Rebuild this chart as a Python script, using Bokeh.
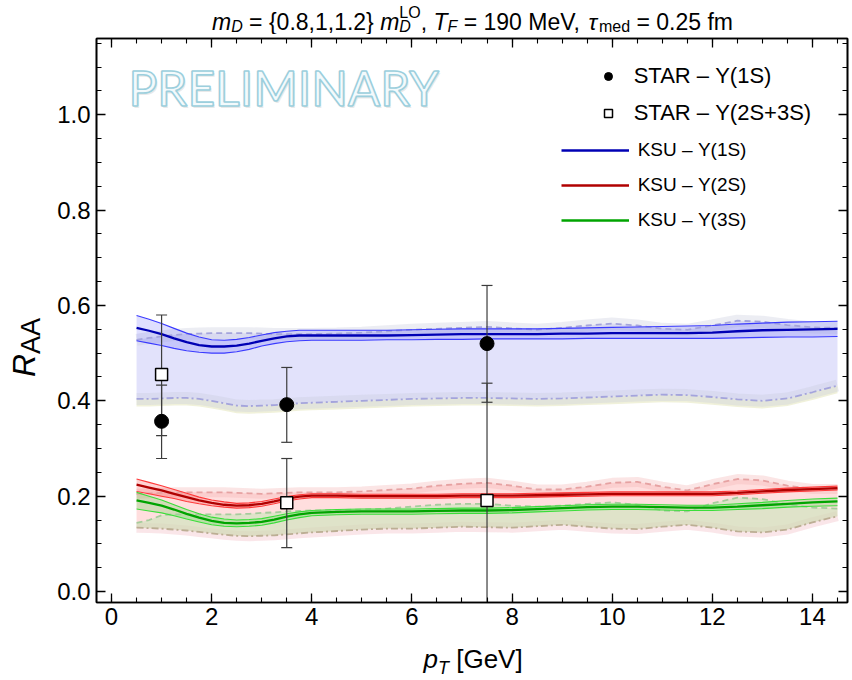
import numpy as np
from bokeh.plotting import figure
from bokeh.layouts import column, row
from bokeh.models import (Label, Legend, LegendItem, LinearAxis, SingleIntervalTicker,
                          Range1d, ColumnDataSource, PrintfTickFormatter, CustomJSTickFormatter)
from bokeh.embed import file_html
from bokeh.resources import INLINE

# ---------------- data ----------------
pt = [0.5, 0.75, 1.0, 1.25, 1.5, 1.75, 2.0, 2.25, 2.5, 2.75, 3.0, 3.25, 3.5, 3.75, 4.0,
      4.5, 5.0, 5.5, 6.0, 6.5, 7.0, 7.5, 8.0, 8.5, 9.0, 9.5, 10.0, 10.5, 11.0, 11.5, 12.0,
      12.5, 13.0, 13.5, 14.0, 14.5]

# KSU Y(1S): central, thin upper / lower, band upper / lower (dashed)
ksu1_c = [.553, .547, .540, .531, .523, .517, .514, .514, .516, .520, .526, .531, .535, .537, .537,
          .537, .537, .537, .538, .539, .540, .540, .540, .540, .541, .541, .542, .542, .542, .542,
          .543, .546, .548, .549, .550, .551]
ksu1_hi = [.579, .571, .562, .552, .542, .534, .528, .527, .529, .533, .538, .543, .546, .548, .548,
           .548, .548, .548, .549, .550, .551, .551, .551, .551, .552, .553, .554, .555, .556, .557,
           .558, .561, .563, .565, .566, .567]
ksu1_lo = [.526, .521, .516, .510, .505, .502, .500, .500, .503, .508, .515, .520, .524, .526, .527,
           .527, .527, .528, .528, .529, .529, .530, .530, .530, .530, .531, .531, .531, .531, .531,
           .531, .532, .533, .534, .534, .535]
ksu1_up = [.528, .532, .535, .538, .540, .541, .542, .542, .542, .542, .541, .540, .540, .540, .540,
           .541, .543, .546, .549, .551, .553, .555, .552, .549, .553, .558, .562, .558, .551, .549,
           .558, .568, .566, .559, .554, .553]
ksu1_dn = [.404, .404, .405, .406, .406, .404, .400, .395, .390, .389, .390, .391, .393, .395, .396,
           .398, .400, .402, .404, .405, .406, .406, .405, .404, .405, .407, .409, .411, .413, .412,
           .408, .403, .400, .405, .418, .432]

# KSU Y(2S)
ksu2_c = [.224, .218, .212, .205, .198, .191, .186, .182, .180, .181, .184, .189, .195, .199, .201,
          .201, .200, .200, .200, .200, .201, .201, .201, .202, .203, .204, .205, .205, .205, .205,
          .205, .207, .210, .213, .215, .217]
ksu2_hi = [.236, .229, .222, .214, .206, .198, .192, .188, .185, .186, .189, .194, .199, .203, .205,
           .205, .204, .204, .204, .204, .205, .205, .205, .206, .207, .208, .209, .209, .209, .209,
           .209, .211, .214, .217, .219, .221]
ksu2_lo = [.210, .205, .200, .195, .189, .184, .180, .177, .175, .176, .179, .184, .190, .194, .197,
           .197, .196, .196, .196, .196, .197, .197, .197, .198, .199, .200, .201, .201, .201, .201,
           .201, .203, .206, .209, .211, .213]
ksu2_up = [.205, .206, .207, .208, .208, .208, .208, .208, .207, .206, .205, .206, .207, .208, .208,
           .208, .210, .213, .216, .222, .226, .228, .222, .214, .214, .220, .228, .230, .220, .212,
           .225, .236, .233, .222, .215, .215]

# KSU Y(3S)
ksu3_c = [.191, .186, .180, .172, .163, .155, .148, .144, .143, .144, .146, .151, .157, .162, .165,
          .167, .168, .168, .168, .169, .170, .170, .171, .173, .175, .177, .178, .178, .177, .176,
          .176, .178, .181, .184, .187, .189]
ksu3_hi = [.208, .200, .192, .182, .172, .163, .156, .152, .150, .151, .153, .158, .163, .167, .170,
           .172, .173, .173, .173, .174, .175, .175, .176, .178, .180, .182, .183, .183, .182, .181,
           .181, .184, .187, .191, .194, .196]
ksu3_lo = [.173, .169, .165, .159, .152, .146, .140, .137, .136, .137, .139, .144, .150, .155, .159,
           .161, .162, .162, .162, .163, .164, .164, .165, .167, .169, .171, .172, .172, .171, .170,
           .170, .172, .174, .177, .179, .180]
ksu3_up = [.144, .150, .160, .162, .162, .162, .162, .162, .162, .163, .165, .166, .168, .169, .170,
           .171, .172, .174, .178, .182, .184, .184, .180, .178, .180, .184, .187, .182, .170, .168,
           .185, .197, .194, .183, .176, .174]
# common lower edge of the 2S / 3S bands
ksu23_dn = [.134, .133, .132, .130, .128, .125, .122, .119, .117, .116, .117, .118, .120, .122, .124,
            .127, .130, .132, .132, .134, .136, .135, .134, .137, .140, .136, .132, .131, .136, .140,
            .134, .126, .124, .130, .145, .158]

# STAR data
star_pt = [1.0, 3.5, 7.5]
star1_raa = [0.357, 0.392, 0.520]
star1_lo = [0.279, 0.313, 0.397]
star1_hi = [0.433, 0.470, 0.642]
star23_raa = [0.455, 0.186, 0.191]
star23_lo = [0.327, 0.092, -0.055]
star23_hi = [0.580, 0.279, 0.437]

x_ticks_interval = 2
y_ticks_interval = 0.2

# ---------------- layout constants ----------------
PAGE_W = 852
TITLE_H = 34
MAIN_BOTTOM = 35
MAIN_H = 4 + 564 + MAIN_BOTTOM
XLAB_H = 680 - TITLE_H - MAIN_H
YLAB_W = 50
MAIN_W = PAGE_W - YLAB_W
X0, X1 = -0.3, 14.7
Y0, Y1 = -0.023, 1.16
FONT = "Liberation Sans"


def blank_fig(w, h):
    f = figure(width=w, height=h, x_range=Range1d(0, w), y_range=Range1d(0, h),
               x_axis_type=None, y_axis_type=None, output_backend="svg", toolbar_location=None,
               min_border=0)
    f.grid.visible = False
    f.outline_line_color = None
    f.background_fill_color = "white"
    f.border_fill_color = "white"
    return f


p = figure(width=MAIN_W, height=MAIN_H, x_range=Range1d(X0, X1), y_range=Range1d(Y0, Y1),
           output_backend="svg", toolbar_location=None,
           min_border_left=46, min_border_right=5, min_border_top=4, min_border_bottom=MAIN_BOTTOM)
p.grid.visible = False
p.outline_line_color = "black"
p.outline_line_width = 1.6
p.background_fill_color = "white"
p.border_fill_color = "white"


def style_axis(ax, interval, labels=True):
    ax.ticker = SingleIntervalTicker(interval=interval, num_minor_ticks=4)
    ax.major_tick_in = 9
    ax.major_tick_out = 0
    ax.minor_tick_in = 5
    ax.minor_tick_out = 0
    ax.axis_line_width = 1.6
    ax.axis_line_color = "black"
    ax.major_tick_line_width = 1.3
    ax.minor_tick_line_width = 1.1
    ax.major_tick_line_color = "black"
    ax.minor_tick_line_color = "black"
    ax.major_label_text_font = FONT
    ax.major_label_text_font_size = "24px"
    ax.major_label_text_color = "black"
    ax.major_label_standoff = 5
    if not labels:
        ax.formatter = CustomJSTickFormatter(code="return ''")
        ax.major_label_text_color = None
        ax.major_label_text_font_size = "1px"
        ax.major_label_standoff = 0


style_axis(p.xaxis[0], x_ticks_interval)
style_axis(p.yaxis[0], y_ticks_interval)
p.yaxis[0].formatter = PrintfTickFormatter(format="%.1f")
p.yaxis[0].major_label_standoff = 6
top_ax = LinearAxis()
right_ax = LinearAxis()
style_axis(top_ax, x_ticks_interval, labels=False)
style_axis(right_ax, y_ticks_interval, labels=False)
p.add_layout(top_ax, "above")
p.add_layout(right_ax, "right")

src = ColumnDataSource(dict(
    x=pt,
    b_c=ksu1_c, b_hi=ksu1_hi, b_lo=ksu1_lo, b_up=ksu1_up, b_dn=ksu1_dn,
    b_dn2=[v - 0.016 for v in ksu1_dn],
    r_c=ksu2_c, r_hi=ksu2_hi, r_lo=ksu2_lo, r_up=ksu2_up,
    g_c=ksu3_c, g_hi=ksu3_hi, g_lo=ksu3_lo, g_up=ksu3_up,
    dn=ksu23_dn,
))

# ---- 1S bands ----
p.varea(x="x", y1="b_dn2", y2="b_dn", source=src, fill_color="#eef0d6", fill_alpha=0.9)
p.varea(x="x", y1="b_dn", y2="b_up", source=src, fill_color="#e2e2fb")
p.line(x="x", y="b_up", source=src, line_color="#c8ccdc", line_width=12, line_alpha=0.35)
p.line(x="x", y="b_dn", source=src, line_color="#c8ccdc", line_width=12, line_alpha=0.35)
p.varea(x="x", y1="b_lo", y2="b_hi", source=src, fill_color="#3b3bff", fill_alpha=0.16)

# ---- 2S / 3S bands ----
p.varea(x="x", y1="dn", y2="r_up", source=src, fill_color="#ffdcdc", fill_alpha=0.95)
p.line(x="x", y="r_up", source=src, line_color="#f4b4b4", line_width=10, line_alpha=0.35)
p.line(x="x", y="dn", source=src, line_color="#f0b8c0", line_width=10, line_alpha=0.35)
p.varea(x="x", y1="dn", y2="g_up", source=src, fill_color="#c4e8b8", fill_alpha=0.55)
p.varea(x="x", y1="r_lo", y2="r_hi", source=src, fill_color="#ff2020", fill_alpha=0.2)
p.varea(x="x", y1="g_lo", y2="g_hi", source=src, fill_color="#20d020", fill_alpha=0.2)

# ---- dashed edges ----
p.line(x="x", y="b_up", source=src, line_color="#a4a4dc", line_width=1.8, line_dash="6 4")
p.line(x="x", y="b_dn", source=src, line_color="#a4a4dc", line_width=1.8, line_dash="7 3 2 3")
p.line(x="x", y="r_up", source=src, line_color="#e6a2a2", line_width=1.8, line_dash="6 4")
p.line(x="x", y="g_up", source=src, line_color="#a6cc9c", line_width=1.8, line_dash="6 4")
p.line(x="x", y="dn", source=src, line_color="#bcae94", line_width=1.8, line_dash="7 3 2 3")

# ---- thin lines ----
for col, c in (("b_hi", "#3a3aff"), ("b_lo", "#3a3aff"), ("r_hi", "#ff3a3a"), ("r_lo", "#ff3a3a"),
               ("g_hi", "#3ade3a"), ("g_lo", "#3ade3a")):
    p.line(x="x", y=col, source=src, line_color=c, line_width=1.1)

# ---- central lines ----
rb = p.line(x="x", y="b_c", source=src, line_color="#0000b4", line_width=2.3)
rr = p.line(x="x", y="r_c", source=src, line_color="#b00000", line_width=2.3)
rg = p.line(x="x", y="g_c", source=src, line_color="#00a400", line_width=2.3)

# ---- STAR points ----
s1 = ColumnDataSource(dict(x=star_pt, y=star1_raa, lo=star1_lo, hi=star1_hi))
s2 = ColumnDataSource(dict(x=star_pt, y=star23_raa, lo=star23_lo, hi=star23_hi))
EB = "#3c3c3c"
for s in (s1, s2):
    p.segment(x0="x", y0="lo", x1="x", y1="hi", source=s, line_color=EB, line_width=1.2)
    p.scatter(x="x", y="lo", source=s, marker="dash", size=11, line_color=EB, line_width=1.2)
    p.scatter(x="x", y="hi", source=s, marker="dash", size=11, line_color=EB, line_width=1.2)
rc = p.scatter(x="x", y="y", source=s1, marker="circle", size=14, fill_color="black", line_color="black")
rs = p.scatter(x="x", y="y", source=s2, marker="square", size=12, fill_color="white",
               line_color="black", line_width=1.5)

# ---- legends (location relative to frame bottom-left, px) ----
leg1 = Legend(items=[LegendItem(label="STAR – Υ(1S)", renderers=[rc]),
                     LegendItem(label="STAR – Υ(2S+3S)", renderers=[rs])],
              location=(501.7, 474.3), orientation="vertical",
              label_text_font=FONT, label_text_font_size="22px", label_text_color="black",
              glyph_width=20, glyph_height=30, label_height=30, spacing=7, padding=0, margin=0,
              label_standoff=16, border_line_color=None, background_fill_alpha=0)
leg2 = Legend(items=[LegendItem(label="KSU – Υ(1S)", renderers=[rb]),
                     LegendItem(label="KSU – Υ(2S)", renderers=[rr]),
                     LegendItem(label="KSU – Υ(3S)", renderers=[rg])],
              location=(464.7, 368), orientation="vertical",
              label_text_font=FONT, label_text_font_size="19px", label_text_color="black",
              glyph_width=68, glyph_height=28, label_height=28, spacing=7, padding=0, margin=0,
              label_standoff=9, border_line_color=None, background_fill_alpha=0)
p.add_layout(leg1)
p.add_layout(leg2)

# PRELIMINARY watermark (inside the frame)
PX_PER_X = 751 / (X1 - X0)
PX_PER_Y = 564 / (Y1 - Y0)
wx = X0 + (128 - 96) / PX_PER_X
wy = Y1 - (115 - 38) / PX_PER_Y
p.add_layout(Label(x=wx, y=wy, text="PRELIMINARY", text_font="Lato",
                   text_font_size="48px", text_color="#a9a9a9", text_alpha=0.25,
                   x_offset=1.5, y_offset=-2))
p.add_layout(Label(x=wx, y=wy, text="PRELIMINARY", text_font="Lato",
                   text_font_size="48px", text_color="#f3fafc", text_outline_color="#9ccfdd"))

# ---------------- rich texts in their own panels ----------------
W = {' ': .278, '=': .584, '{': .334, '}': .334, '.': .278, ',': .278, 'm': .833, 'D': .722,
     'L': .556, 'O': .778, 'T': .611, 'F': .611, 'M': .833, 'e': .556, 'V': .667, 'τ': .46,
     'd': .556, 'f': .278, 'p': .556, '[': .278, ']': .278, 'G': .778, 'R': .722, 'A': .667}
for dch in "0123456789":
    W[dch] = .556


def tw(s, size):
    return sum(W.get(ch, .6) for ch in s) * size


def rich(fig, pieces, x, y, start_px=0.0, angle=0.0, baseline="alphabetic", ref_size=None):
    cur = start_px
    for text, size, style, shift, adv in pieces:
        lead = len(text) - len(text.lstrip(' '))
        off = cur + lead * W[' '] * size
        if baseline == "middle" and ref_size:
            # keep a common baseline for pieces of different sizes
            shift = shift - 0.3465 * (ref_size - size)
        if angle == 0:
            xo, yo = off, shift
        else:
            xo, yo = -shift, off
        fig.add_layout(Label(x=x, y=y, text=text.strip(' '),
                             text_font=FONT, text_font_size=f"{size}px", text_font_style=style,
                             text_color="black", text_align="left", text_baseline=baseline,
                             x_offset=xo, y_offset=yo, angle=angle))
        if adv:
            cur += tw(text, size)


# title panel (coordinates are pixels of this panel)
tfig = blank_fig(PAGE_W, TITLE_H)
TS, SS = 23, 16
title1 = [("m", TS, "italic", 0, True), ("D", SS, "italic", -5, True),
          (" = {0.8,1,1.2} ", TS, "normal", 0, True),
          ("m", TS, "italic", 0, True), ("LO", SS, "normal", 9, False), ("D", SS, "italic", -5, False)]
stack_w = max(tw("LO", SS), tw("D", SS))
title2 = [(", ", TS, "normal", 0, True), ("T", TS, "italic", 0, True), ("F", SS, "italic", -5, True),
          (" = 190 MeV, ", TS, "normal", 0, True), ("τ", TS, "italic", 0, True),
          ("med", SS, "normal", -5, True), (" = 0.25 fm", TS, "normal", 0, True)]
w1 = sum(tw(t, s) for t, s, st, sh, a in title1 if a) + stack_w
w2 = sum(tw(t, s) for t, s, st, sh, a in title2 if a)
tstart = 472 - (w1 + w2) / 2
rich(tfig, title1, tstart, 13)
rich(tfig, title2, tstart, 13, start_px=w1)

# y label panel
yfig = blank_fig(YLAB_W, MAIN_H)
rich(yfig, [("R", 32, "italic", 0, True), ("AA", 27, "normal", -7, True)],
     23, (TITLE_H + MAIN_H) - 396, angle=np.pi / 2)

# x label panel (text centred vertically in its panel)
xfig = blank_fig(PAGE_W, XLAB_H)
rich(xfig, [("p", 26, "italic", 0, True), ("T", 18, "italic", -6, True), (" [GeV]", 26, "normal", 0, True)],
     423, XLAB_H / 2, baseline="middle", ref_size=26)

layout = column(tfig, row(yfig, p, spacing=0), xfig, spacing=0)
open("out.html", "w").write(file_html(layout, INLINE))
